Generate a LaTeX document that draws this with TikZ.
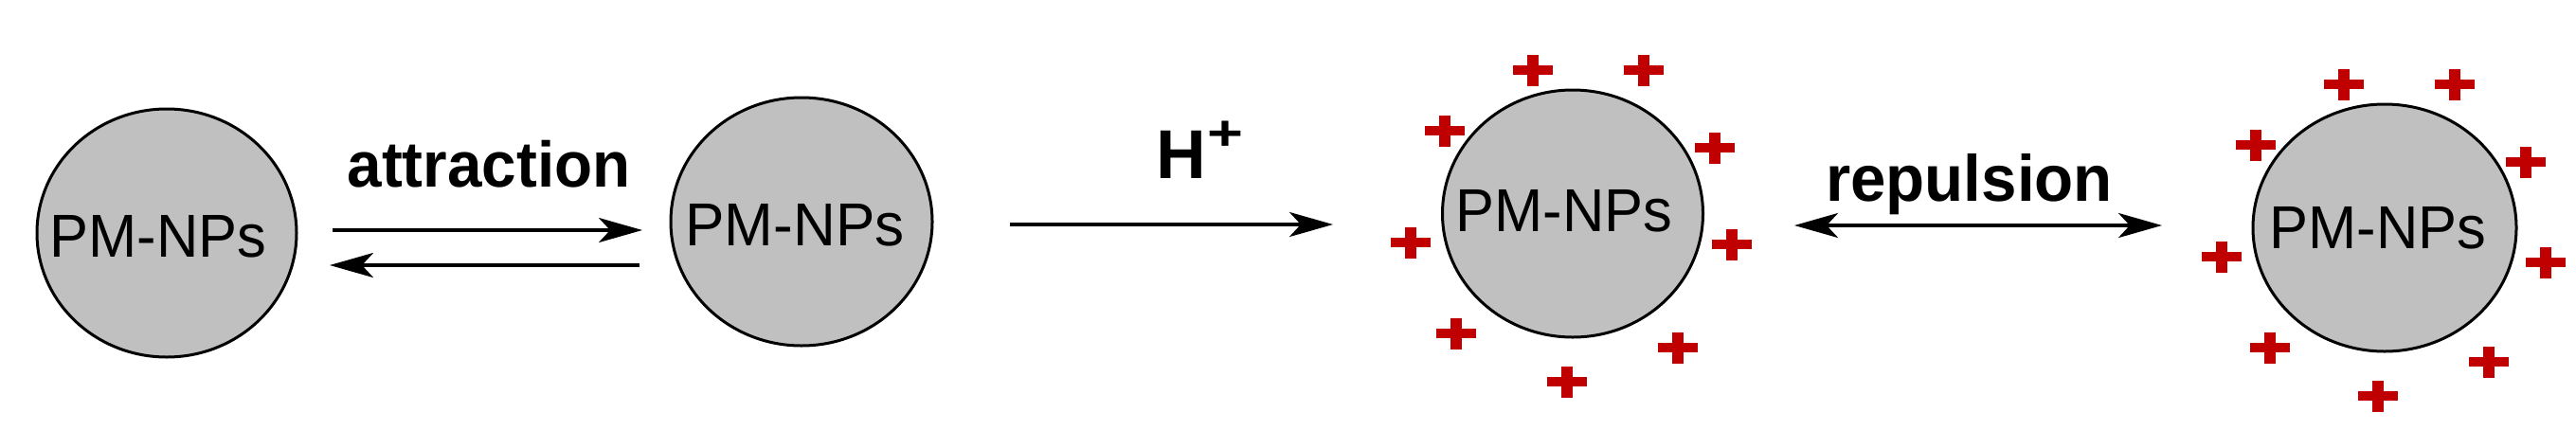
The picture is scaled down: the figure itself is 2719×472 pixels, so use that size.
\documentclass[tikz,border=0pt]{standalone}
\usepackage{fontspec}
\setmainfont{Liberation Sans}
\usetikzlibrary{arrows.meta,shapes.geometric}
\definecolor{npgray}{RGB}{192,192,192}
\definecolor{chargered}{RGB}{192,0,0}
\newcommand\pmlabel[2]{\scalebox{#1}[1]{\fontsize{#2}{#2}\selectfont PM-NPs}}
\newcommand\boldlabel[3]{\scalebox{#1}[1]{\fontsize{#2}{#2}\selectfont\bfseries #3}}
\begin{document}
\begin{tikzpicture}[x=1pt,y=-1pt,
  particle/.style={ellipse,draw=black,line width=3pt,fill=npgray,inner sep=0pt},
  lbl/.style={inner sep=0pt,text=black},
  rxn/.style={line width=3.7pt,-{Stealth[length=46pt,width=26pt,inset=12pt]}},
  charge/.pic={
    \fill[chargered] (-21,-5) rectangle (21,5);
    \fill[chargered] (-6,-16.5) rectangle (6,16.5);
  }]
\useasboundingbox (0,0) rectangle (2719,472);
% particles
\node[particle,minimum width=274pt,minimum height=262pt] (p1) at (176,246) {};
\node[particle,minimum width=276pt,minimum height=262pt] (p2) at (846,234) {};
\node[particle,minimum width=275pt,minimum height=261pt] (p3) at (1660,225.5) {};
\node[particle,minimum width=278pt,minimum height=261pt] (p4) at (2517,240.5) {};
% particle labels
\node[lbl] (t1) at (167,250) {\pmlabel{0.96}{64}};
\node[lbl] (t2) at (839,238) {\pmlabel{0.97}{64}};
\node[lbl] (t3) at (1651,223) {\pmlabel{0.96}{64}};
\node[lbl] (t4) at (2510,240.5) {\pmlabel{0.96}{64}};
% reaction labels
\node[lbl,anchor=base] (attr) at (516,197) {\boldlabel{0.965}{68}{attraction}};
\node[lbl,anchor=base] (hplus) at (1266.5,188) {\fontsize{73}{73}\selectfont\bfseries H\kern1pt\raisebox{30pt}{\scalebox{1.25}[1]{\fontsize{52}{52}\selectfont +}}};
\node[lbl,anchor=base] (rep) at (2078.5,212) {\boldlabel{0.975}{69}{repulsion}};
% arrow end points
\coordinate (a1s) at (351,243); \coordinate (a1e) at (678,243);
\coordinate (a2s) at (675,280); \coordinate (a2e) at (348,280);
\coordinate (hs) at (1066,237);  \coordinate (he) at (1407,237);
\coordinate (rs) at (1894,238); \coordinate (re) at (2282,238);
\draw[rxn] (a1s) -- (a1e);
\draw[rxn] (a2s) -- (a2e);
\draw[rxn] (hs) -- (he);
\draw[rxn,{Stealth[length=46pt,width=26pt,inset=12pt]}-{Stealth[length=46pt,width=26pt,inset=12pt]}] (rs) -- (re);
% charges around particle 3
\foreach \cx/\cy in {1618/74,1735/74,1525/138,1810/156,1489/256,1828/258,1537/352,1771/367,1654/403}
  \pic at (\cx,\cy) {charge};
% charges around particle 4
\foreach \cx/\cy in {2474/89,2591/89,2381/153,2666/171,2345/271,2687/277,2396/367,2627/382,2510/418}
  \pic at (\cx,\cy) {charge};
\end{tikzpicture}
\end{document}
